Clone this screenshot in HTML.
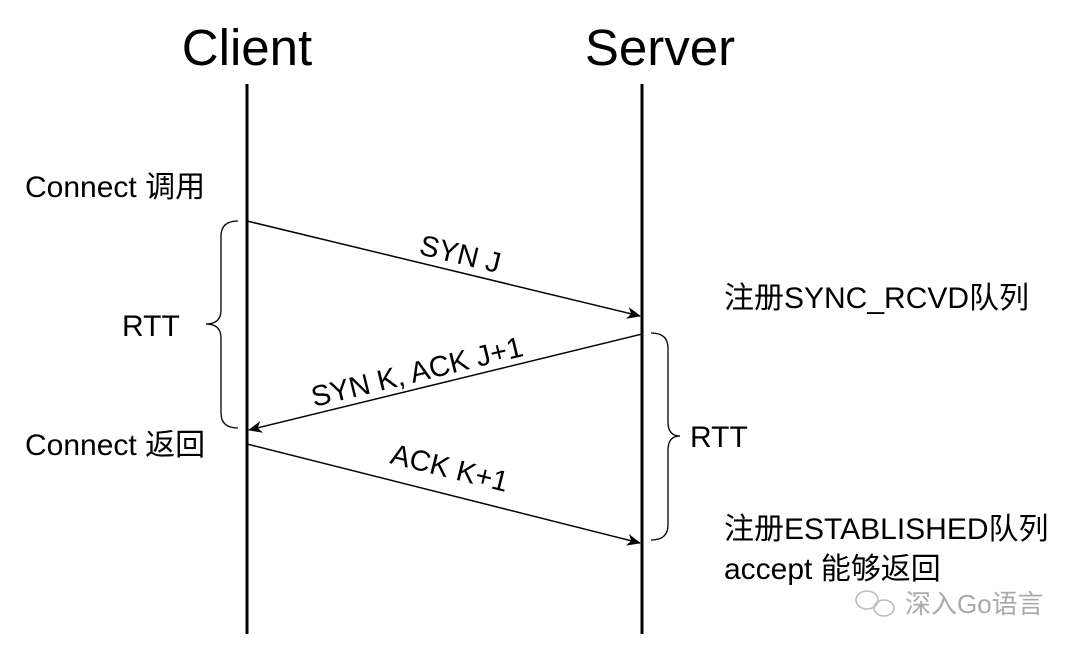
<!DOCTYPE html>
<html><head><meta charset="utf-8"><style>
body{margin:0;background:#fff;}
svg text{font-family:"Liberation Sans","Noto Sans CJK SC",sans-serif;fill:#000;}
</style></head><body>
<svg width="1080" height="650" viewBox="0 0 1080 650" xmlns="http://www.w3.org/2000/svg">
<defs><marker id="a" markerWidth="14" markerHeight="12" refX="13" refY="6" orient="auto" markerUnits="userSpaceOnUse"><path d="M0,0 L14,6 L0,12 L4,6 Z" fill="#000"/></marker></defs>
<text x="247" y="65" font-size="51" text-anchor="middle">Client</text>
<text x="660" y="65" font-size="51" text-anchor="middle">Server</text>
<line x1="247" y1="84" x2="247" y2="634" stroke="#000" stroke-width="3"/>
<line x1="642" y1="84" x2="642" y2="634" stroke="#000" stroke-width="3"/>
<line x1="247" y1="221" x2="640" y2="316" stroke="#000" stroke-width="1.5" marker-end="url(#a)"/>
<line x1="642" y1="334" x2="249" y2="430" stroke="#000" stroke-width="1.5" marker-end="url(#a)"/>
<line x1="247" y1="444" x2="640" y2="543" stroke="#000" stroke-width="1.5" marker-end="url(#a)"/>
<text font-size="29" transform="translate(418,254) rotate(13.5)">SYN J</text>
<text font-size="29" transform="translate(314,407) rotate(-13.7)">SYN K, ACK J+1</text>
<text font-size="29" transform="translate(389,463) rotate(14)">ACK K+1</text>
<path d="M238,221 Q221,221 221,236 L221,310 Q221,324 206,324 Q221,324 221,338 L221,413 Q221,428 238,428" fill="none" stroke="#000" stroke-width="1.3"/>
<path d="M651,333 Q668,333 668,348 L668,422 Q668,436 680,436 Q668,436 668,450 L668,525 Q668,540 651,540" fill="none" stroke="#000" stroke-width="1.3"/>
<text x="25" y="197" font-size="30">Connect 调用</text>
<text x="122" y="336" font-size="30">RTT</text>
<text x="25" y="455" font-size="30">Connect 返回</text>
<text x="690" y="447" font-size="30">RTT</text>
<text x="724" y="308" font-size="30">注册SYNC_RCVD队列</text>
<text x="724" y="539" font-size="30">注册ESTABLISHED队列</text>
<text x="724" y="579" font-size="30">accept 能够返回</text>
<g fill="none" stroke="#bbb" stroke-width="1.5"><ellipse cx="867" cy="600" rx="11" ry="9"/><ellipse cx="884" cy="608" rx="10" ry="8"/></g>
<text x="905" y="613" font-size="26" style="fill:#aaa">深入Go语言</text>
</svg>
</body></html>
